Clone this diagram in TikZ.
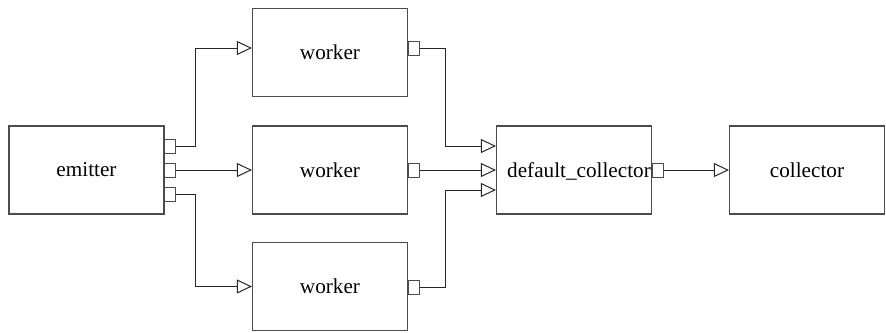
\documentclass[tikz,border=0pt]{standalone}
\usepackage{fontspec}
\setmainfont{Liberation Serif}
\newfontfamily\blkfont{Liberation Serif}
\usetikzlibrary{arrows.meta}

\begin{document}
\begin{tikzpicture}[x=.5pt, y=-.5pt,
	blk/.style = {draw=black!70, line width=.6pt, minimum width=77.5pt, minimum height=44pt, inner sep=0pt, font=\blkfont\fontsize{10.6}{12}\selectfont},
	port/.style = {draw=black!70, line width=.5pt, minimum width=5.5pt, minimum height=7pt, inner sep=0pt, anchor=west},
	flow/.style = {draw=black!85, line width=.5pt, -{Triangle[open, length=7.5pt, width=7pt]}}]
	\useasboundingbox (0,0) rectangle (886,332);
	\node[blk] (emitter) at (86.5,170) {emitter};
	\node[blk] (worker1) at (330,52.5) {worker};
	\node[blk] (worker2) at (330,170) {worker};
	\node[blk] (worker3) at (330,286.5) {worker};
	\node[blk, text depth=0pt] (dc) at (574,170) {\hspace*{5pt}default\_collector};
	\node[blk] (collector) at (807,170) {collector};
	\node[port] (e1) at (164,146) {};
	\node[port] (e2) at (164,170) {};
	\node[port] (e3) at (164,194) {};
	\node[port] (w1) at (408,48) {};
	\node[port] (w2) at (408,170) {};
	\node[port] (w3) at (408,287) {};
	\node[port] (d1) at (652,170) {};
	\draw[flow] (e1.east) -- ++(19,0) |- ([yshift=2.25pt]worker1.west);
	\draw[flow] (e2.east) -- (worker2.west);
	\draw[flow] (e3.east) -- ++(19,0) |- (worker3.west);
	\draw[flow] (w1.east) -- ++(25,0) |- ([yshift=12pt]dc.west);
	\draw[flow] (w2.east) -- (dc.west);
	\draw[flow] (w3.east) -- ++(25,0) |- ([yshift=-10pt]dc.west);
	\draw[flow] (d1.east) -- (collector.west);
\end{tikzpicture}
\end{document}
